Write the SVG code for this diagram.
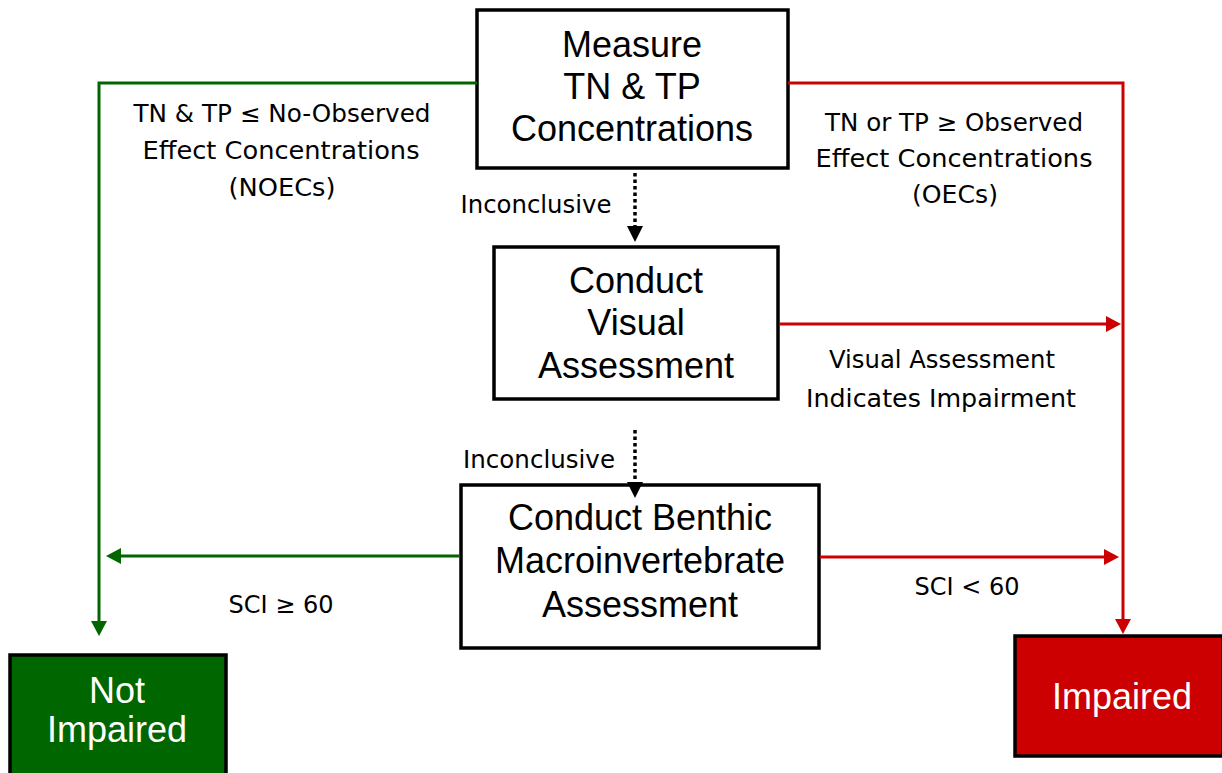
<svg xmlns="http://www.w3.org/2000/svg" width="1222" height="773" viewBox="0 0 1222 773">
<style>
.box{fill:#ffffff;stroke:#000000;stroke-width:3.5}
.bt{font-family:"Liberation Sans",Arial,sans-serif;font-size:36px;fill:#000000;text-anchor:middle}
.wt{font-family:"Liberation Sans",Arial,sans-serif;font-size:36px;fill:#ffffff;text-anchor:middle}
.lb{font-family:"DejaVu Sans",sans-serif;font-size:24px;fill:#000000;text-anchor:middle}
.g{fill:none;stroke:#006600;stroke-width:3}
.r{fill:none;stroke:#cc0000;stroke-width:3}
.d{fill:none;stroke:#000000;stroke-width:3.5;stroke-dasharray:3.5 3}
</style>
<defs>
<marker id="ag" viewBox="0 0 15 16" refX="0" refY="8" markerWidth="15" markerHeight="16" markerUnits="userSpaceOnUse" orient="auto"><path d="M0,0 L15,8 L0,16 z" fill="#006600"/></marker>
<marker id="ar" viewBox="0 0 15 16" refX="0" refY="8" markerWidth="15" markerHeight="16" markerUnits="userSpaceOnUse" orient="auto"><path d="M0,0 L15,8 L0,16 z" fill="#cc0000"/></marker>
<marker id="ak" viewBox="0 0 16 16" refX="0" refY="8" markerWidth="16" markerHeight="16" markerUnits="userSpaceOnUse" orient="auto"><path d="M0,0 L16,8 L0,16 z" fill="#000000"/></marker>
</defs>
<g id="labels">
<text class="lb" x="282" y="122" textLength="297" lengthAdjust="spacingAndGlyphs">TN &amp; TP ≤ No-Observed</text>
<text class="lb" x="281" y="159" textLength="277" lengthAdjust="spacingAndGlyphs">Effect Concentrations</text>
<text class="lb" x="282" y="196" textLength="107" lengthAdjust="spacingAndGlyphs">(NOECs)</text>
<text class="lb" x="954" y="131" textLength="258" lengthAdjust="spacingAndGlyphs">TN or TP ≥ Observed</text>
<text class="lb" x="954" y="167" textLength="277" lengthAdjust="spacingAndGlyphs">Effect Concentrations</text>
<text class="lb" x="955" y="203" textLength="86" lengthAdjust="spacingAndGlyphs">(OECs)</text>
<text class="lb" x="536" y="213" textLength="151" lengthAdjust="spacingAndGlyphs">Inconclusive</text>
<text class="lb" x="539" y="468" textLength="152" lengthAdjust="spacingAndGlyphs">Inconclusive</text>
<text class="lb" x="942" y="368" textLength="226" lengthAdjust="spacingAndGlyphs">Visual Assessment</text>
<text class="lb" x="941" y="407" textLength="270" lengthAdjust="spacingAndGlyphs">Indicates Impairment</text>
<text class="lb" x="281" y="613" textLength="105" lengthAdjust="spacingAndGlyphs">SCI ≥ 60</text>
<text class="lb" x="967" y="595" textLength="105" lengthAdjust="spacingAndGlyphs">SCI &lt; 60</text>
</g>
<g id="measure">
<rect class="box" x="477" y="10" width="311" height="158"/>
<text class="bt" x="632" y="57">Measure</text>
<text class="bt" x="632" y="99">TN &amp; TP</text>
<text class="bt" x="632" y="141">Concentrations</text>
</g>
<g id="visual">
<rect class="box" x="494" y="247" width="284" height="152"/>
<text class="bt" x="636" y="293">Conduct</text>
<text class="bt" x="636" y="335">Visual</text>
<text class="bt" x="636" y="378">Assessment</text>
</g>
<g id="benthic">
<rect class="box" x="461" y="485" width="358" height="163"/>
<text class="bt" x="640" y="530">Conduct Benthic</text>
<text class="bt" x="640" y="573">Macroinvertebrate</text>
<text class="bt" x="640" y="617">Assessment</text>
</g>
<g id="not-impaired">
<rect x="10" y="655" width="216" height="130" fill="#006600" stroke="#000000" stroke-width="3.5"/>
<text class="wt" x="117" y="703">Not</text>
<text class="wt" x="117" y="742">Impaired</text>
</g>
<g id="impaired">
<rect x="1015" y="636" width="208" height="120" fill="#cc0000" stroke="#000000" stroke-width="3.5"/>
<text class="wt" x="1122" y="709">Impaired</text>
</g>
<g id="connectors">
<path class="g" d="M477,83 H99 V621" marker-end="url(#ag)"/>
<path class="g" d="M460,556 H121" marker-end="url(#ag)"/>
<path class="r" d="M788,83 H1123 V619" marker-end="url(#ar)"/>
<path class="r" d="M779,324 H1106" marker-end="url(#ar)"/>
<path class="r" d="M820,557 H1104" marker-end="url(#ar)"/>
<path class="d" d="M635,173 V226" marker-end="url(#ak)"/>
<path class="d" d="M635,430 V482" marker-end="url(#ak)"/>
</g>
</svg>
